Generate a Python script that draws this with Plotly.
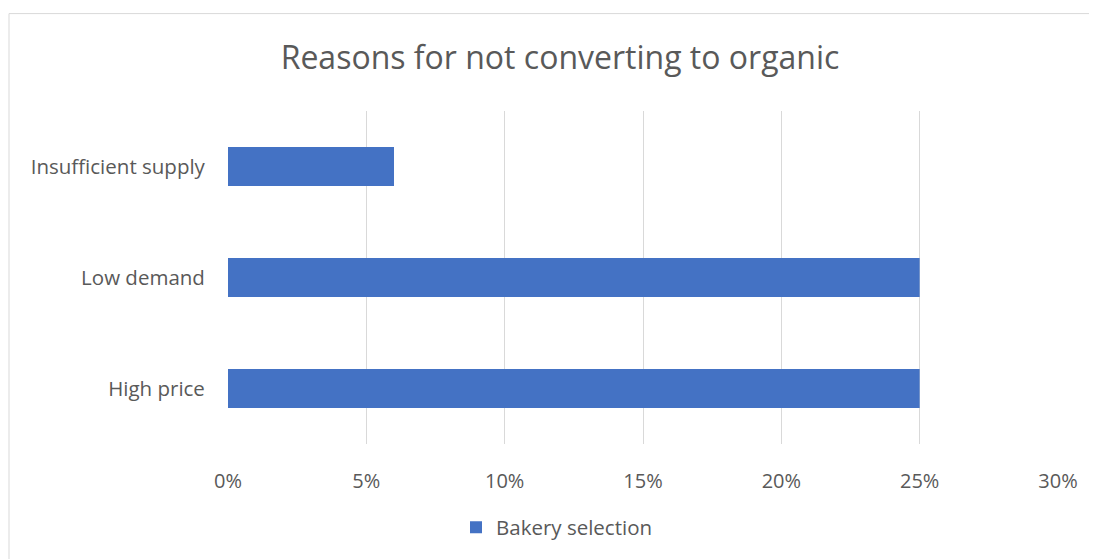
import plotly.graph_objects as go

categories = ["High price", "Low demand", "Insufficient supply"]
values = [0.25, 0.25, 0.06]
series_name = "Bakery selection"
tick_vals = [0, 0.05, 0.10, 0.15, 0.20, 0.25, 0.30]
tick_text = ["0%", "5%", "10%", "15%", "20%", "25%", "30%"]

OFF = 8  # page body margin
W, H = 1097 - OFF, 559 - OFF
L, R, T, B = 228 - OFF, 39, 111 - OFF, 113
pw, ph = W - L - R, H - T - B

def px(x):
    return (x - OFF - L) / pw

def py(y):
    return (T + ph - (y - OFF)) / ph

fig = go.Figure()
fig.add_trace(go.Bar(
    y=categories, x=values, orientation="h", name=series_name,
    marker=dict(color="#4472C4", line=dict(width=0)), width=0.35,
    showlegend=True,
))

font = "'Open Sans', sans-serif"
fig.update_layout(
    width=W, height=H,
    margin=dict(l=L, r=R, t=T, b=B),
    paper_bgcolor="white", plot_bgcolor="white",
    font=dict(family=font, color="#595959", size=18),
    title=dict(text="Reasons for not converting to organic", x=(560 - OFF) / W, xanchor="center",
               y=1 - (58 - OFF) / H, yanchor="middle", font=dict(size=32, color="#595959", family=font)),
    xaxis=dict(range=[0, 0.30], tickvals=tick_vals, ticktext=tick_text,
               showgrid=True, gridcolor="#D9D9D9", gridwidth=1, zeroline=False,
               showline=False, ticks="outside", ticklen=19, tickcolor="rgba(0,0,0,0)",
               tickfont=dict(size=20, color="#595959"), fixedrange=True),
    yaxis=dict(showgrid=False, zeroline=False, showline=False,
               ticks="outside", ticklen=18, tickcolor="rgba(0,0,0,0)",
               tickfont=dict(size=20.5, color="#595959"), fixedrange=True),
    legend=dict(orientation="h", x=px(557), xanchor="center",
                y=py(530), yanchor="middle",
                font=dict(size=20.5, color="#595959"), itemwidth=30),
    bargap=0.65,
    shapes=[dict(type="rect", xref="paper", yref="paper",
                 x0=px(9), x1=px(1120),
                 y0=py(580), y1=py(13),
                 line=dict(color="#D9D9D9", width=1), fillcolor="rgba(0,0,0,0)", layer="below")],
)

fig.write_html("out.html")
